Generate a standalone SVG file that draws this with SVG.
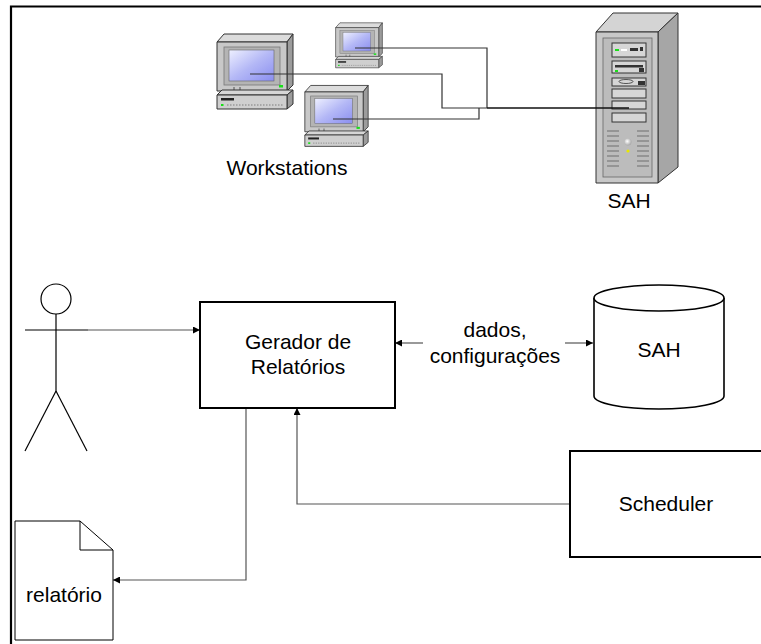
<svg xmlns="http://www.w3.org/2000/svg" xmlns:xlink="http://www.w3.org/1999/xlink" width="761" height="644" viewBox="0 0 761 644">
  <style>
    .lbl { font-family: "Liberation Sans", Arial, sans-serif; font-size: 21px; fill: #000; }
    .box { fill: #fff; stroke: #000; stroke-width: 2; }
    .conn { fill: none; stroke: #555; stroke-width: 1.2; }
    .wire { fill: none; stroke: #333; stroke-width: 1.2; }
    .hw { stroke: #333; stroke-width: 1; stroke-linejoin: round; }
  </style>
  <defs>
    <linearGradient id="screen" x1="0" y1="0" x2="1" y2="1">
      <stop offset="0" stop-color="#eef0ff"/>
      <stop offset="0.5" stop-color="#b4b8f6"/>
      <stop offset="1" stop-color="#8a8ef0"/>
    </linearGradient>
    <radialGradient id="btn" cx="0.4" cy="0.4" r="0.6">
      <stop offset="0" stop-color="#fff"/>
      <stop offset="1" stop-color="#aaa"/>
    </radialGradient>
    <marker id="arr" viewBox="0 0 8 8" refX="8" refY="4" markerWidth="7" markerHeight="7" markerUnits="userSpaceOnUse" orient="auto">
      <path d="M0,0 L8,4 L0,8 z" fill="#000"/>
    </marker>
    <!-- desktop computer: monitor on a flat CPU unit -->
    <symbol id="pc" viewBox="0 0 78 80" preserveAspectRatio="none">
      <polygon class="hw" points="1,11 8,3 77,3 71,11" fill="#dcdcdc"/>
      <polygon class="hw" points="71,11 77,3 77,54 71,60" fill="#9c9c9c"/>
      <rect class="hw" x="1" y="11" width="70" height="49" fill="#c8c8c8"/>
      <rect x="8" y="16" width="56" height="38" fill="#b4b4b4" stroke="#777" stroke-width="0.8"/>
      <rect x="13" y="19" width="45" height="31" fill="url(#screen)" stroke="#666" stroke-width="0.6"/>
      <rect x="63" y="54" width="4" height="2.5" fill="#19e019"/>
      <line x1="18" y1="56" x2="18" y2="60" stroke="#333" stroke-width="0.8"/>
      <line x1="24" y1="56" x2="24" y2="60" stroke="#333" stroke-width="0.8"/>
      <polygon class="hw" points="1,64 6,59 77,59 71,64" fill="#d6d6d6"/>
      <polygon class="hw" points="71,64 77,59 77,73 71,78" fill="#9c9c9c"/>
      <rect class="hw" x="1" y="64" width="70" height="14" fill="#cfcfcf"/>
      <rect x="5" y="67" width="13" height="2.5" fill="#222"/>
      <rect x="5" y="73" width="2.5" height="2" fill="#19e019"/>
      <line x1="11" y1="74" x2="68" y2="74" stroke="#999" stroke-width="1.5" stroke-dasharray="1.5 1.5"/>
    </symbol>
  </defs>

  <rect width="761" height="644" fill="#fff"/>

  <!-- outer frame -->
  <path d="M761,6.5 H11 V644" fill="none" stroke="#000" stroke-width="2.2"/>

  <g id="workstations">
    <use xlink:href="#pc" x="216" y="31" width="78" height="80"/>
    <use xlink:href="#pc" x="335" y="21" width="48" height="48"/>
    <use xlink:href="#pc" x="304" y="83" width="65" height="65"/>
    <text class="lbl" x="287" y="175" text-anchor="middle">Workstations</text>
  </g>

  <g id="server">
    <polygon class="hw" points="596,32 613,13 678,13 658,32" fill="#d4d4d4"/>
    <polygon class="hw" points="658,32 678,13 678,167 658,183" fill="#a6a6a6"/>
    <rect class="hw" x="596" y="32" width="62" height="151" fill="#c8c8c8"/>
    <rect x="603" y="38" width="49" height="139" fill="#bcbcbc" stroke="#666" stroke-width="0.8"/>
    <g fill="#d6d6d6" stroke="#333" stroke-width="1">
      <rect x="612" y="43" width="34" height="14"/>
      <rect x="612" y="61" width="34" height="12"/>
      <rect x="612" y="78" width="34" height="8"/>
      <rect x="612" y="89" width="34" height="9"/>
      <rect x="612" y="101" width="34" height="8"/>
      <rect x="612" y="113" width="34" height="9"/>
    </g>
    <rect x="615" y="49" width="4" height="2" fill="#19e019"/>
    <rect x="621" y="49" width="6" height="2" fill="#fff"/>
    <rect x="630" y="48" width="8" height="3" fill="#333"/>
    <rect x="640" y="47" width="3" height="4" fill="#333"/>
    <rect x="615" y="65" width="28" height="2.5" fill="#333"/>
    <rect x="615" y="70" width="3" height="2" fill="#19e019"/>
    <rect x="639" y="68" width="5" height="4" fill="#333"/>
    <ellipse cx="626" cy="81.5" rx="7" ry="2" fill="none" stroke="#333" stroke-width="0.8"/>
    <rect x="638" y="81" width="7" height="4" fill="#333"/>
    <g stroke="#888" stroke-width="1.5">
      <line x1="607" y1="131" x2="619" y2="131"/><line x1="637" y1="131" x2="649" y2="131"/>
      <line x1="607" y1="136" x2="619" y2="136"/><line x1="637" y1="136" x2="649" y2="136"/>
      <line x1="607" y1="141" x2="619" y2="141"/><line x1="637" y1="141" x2="649" y2="141"/>
      <line x1="607" y1="146" x2="619" y2="146"/><line x1="637" y1="146" x2="649" y2="146"/>
      <line x1="607" y1="151" x2="619" y2="151"/><line x1="637" y1="151" x2="649" y2="151"/>
      <line x1="607" y1="156" x2="619" y2="156"/><line x1="637" y1="156" x2="649" y2="156"/>
      <line x1="607" y1="161" x2="619" y2="161"/><line x1="637" y1="161" x2="649" y2="161"/>
      <line x1="607" y1="166" x2="619" y2="166"/><line x1="637" y1="166" x2="649" y2="166"/>
    </g>
    <circle cx="628" cy="142" r="3.5" fill="url(#btn)"/>
    <circle cx="628" cy="151" r="1.6" fill="#e8e800"/>
    <text class="lbl" x="629" y="208" text-anchor="middle">SAH</text>
  </g>

  <!-- network wiring, drawn over the screens and into the server bay -->
  <g id="wiring">
    <path class="wire" d="M250,74 H442 V108 H487"/>
    <path class="wire" d="M355,48 H487 V108"/>
    <path class="wire" d="M333,119 H479 V108"/>
    <path d="M487,108 H629" fill="none" stroke="#111" stroke-width="1.6"/>
  </g>

  <!-- connectors of the lower flow -->
  <g id="connectors">
    <line x1="88" y1="330" x2="200" y2="330" class="conn" marker-end="url(#arr)"/>
    <line x1="423" y1="343" x2="395" y2="343" class="conn" marker-end="url(#arr)"/>
    <line x1="565" y1="343" x2="593" y2="343" class="conn" marker-end="url(#arr)"/>
    <path d="M570,504 H297 V408" class="conn" marker-end="url(#arr)"/>
    <path d="M246,408 V580 H113" class="conn" marker-end="url(#arr)"/>
    <text class="lbl" x="495" y="337" text-anchor="middle">dados,</text>
    <text class="lbl" x="495" y="363" text-anchor="middle">configurações</text>
  </g>

  <g id="actor" fill="none" stroke="#000" stroke-width="1.2">
    <circle cx="56" cy="299" r="15"/>
    <line x1="25" y1="330" x2="88" y2="330"/>
    <line x1="56" y1="314" x2="56" y2="391"/>
    <line x1="56" y1="391" x2="25" y2="451"/>
    <line x1="56" y1="391" x2="87" y2="451"/>
  </g>

  <g id="gerador">
    <rect class="box" x="200" y="302" width="195" height="106"/>
    <text class="lbl" x="298" y="349" text-anchor="middle">Gerador de</text>
    <text class="lbl" x="298" y="374" text-anchor="middle">Relatórios</text>
  </g>

  <g id="sah-db">
    <path d="M594,298 V396 A65,13 0 0 0 724,396 V298" fill="#fff" stroke="#000" stroke-width="1.6"/>
    <ellipse cx="659" cy="298" rx="65" ry="13" fill="#fff" stroke="#000" stroke-width="1.6"/>
    <text class="lbl" x="659" y="357" text-anchor="middle">SAH</text>
  </g>

  <g id="scheduler">
    <rect class="box" x="570" y="451" width="200" height="106"/>
    <text class="lbl" x="666" y="511" text-anchor="middle">Scheduler</text>
  </g>

  <g id="relatorio">
    <path d="M15,521 H80 L113,550 V640 H15 Z" fill="#fff" stroke="#000" stroke-width="1"/>
    <path d="M80,521 V550 H113" fill="none" stroke="#000" stroke-width="1"/>
    <text class="lbl" x="64" y="602" text-anchor="middle">relatório</text>
  </g>
</svg>
